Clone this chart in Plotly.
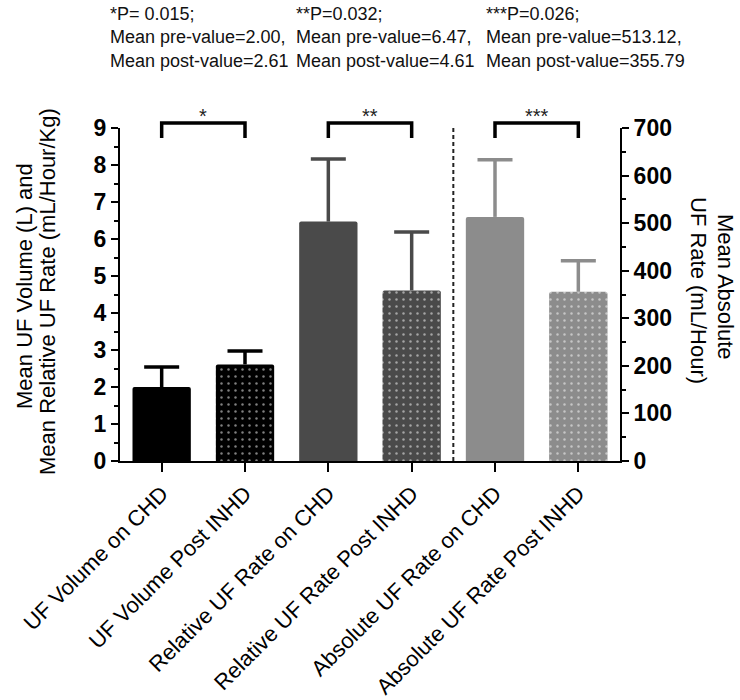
import plotly.graph_objects as go

# ---------------- data ----------------
categories = ["UF Volume on CHD", "UF Volume Post INHD",
              "Relative UF Rate on CHD", "Relative UF Rate Post INHD",
              "Absolute UF Rate on CHD", "Absolute UF Rate Post INHD"]
left_means = [2.00, 2.61, 6.47, 4.61]          # left axis (L, mL/Hour/Kg)
left_sd = [0.54, 0.36, 1.69, 1.58]
right_means = [513.12, 355.79]                 # right axis (mL/Hour)
right_sd = [120, 65]
left_colors = ["#000000", "#000000", "#4a4a4a", "#4a4a4a"]
right_colors = ["#8c8c8c", "#8c8c8c"]
left_patterns = ["", ".", "", "."]
right_patterns = ["", "."]
left_ticks = list(range(0, 10))
right_ticks = list(range(0, 701, 100))
sig_pairs = [(0, 1, "*"), (2, 3, "**"), (4, 5, "***")]
stat_texts = [
    "*P= 0.015;<br>Mean pre-value=2.00,<br>Mean post-value=2.61",
    "**P=0.032;<br>Mean pre-value=6.47,<br>Mean post-value=4.61",
    "***P=0.026;<br>Mean pre-value=513.12,<br>Mean post-value=355.79",
]

FONT = "Liberation Sans, Arial, sans-serif"
W, H = 740, 700
ML, MR, MT, MB = 120, 120, 128, 239
PW, PH = W - ML - MR, H - MT - MB


def px(x):
    return (x - ML) / PW


def py(y):
    return (H - MB - y) / PH


xs = list(range(len(categories)))

fig = go.Figure()


def add_group(xvals, means, sds, colors, patterns, yaxis):
    for x, m, s, c, p in zip(xvals, means, sds, colors, patterns):
        fig.add_trace(go.Bar(
            x=[x], y=[m], width=0.7,
            marker=dict(color=c, line=dict(width=0), cornerradius=2,
                        pattern=dict(shape=p, fillmode="overlay",
                                     fgcolor="white", size=7, solidity=0.1)),
            yaxis=yaxis, showlegend=False, offsetgroup="a", hoverinfo="skip",
        ))
        # error bar: stem down to the bar top, cap as a marker
        fig.add_trace(go.Scatter(
            x=[x], y=[m + s], mode="markers",
            marker=dict(symbol="line-ew", size=25, color=c,
                        line=dict(color=c, width=3.5)),
            error_y=dict(type="data", symmetric=False, array=[0], arrayminus=[s],
                         color=c, thickness=3.5, width=0),
            yaxis=yaxis, showlegend=False, hoverinfo="skip", cliponaxis=False,
        ))


add_group(xs[:4], left_means, left_sd, left_colors, left_patterns, "y")
add_group(xs[4:], right_means, right_sd, right_colors, right_patterns, "y2")

shapes = []
for a, b, _ in sig_pairs:
    shapes.append(dict(type="path", xref="x", yref="paper",
                       path=f"M {a},{py(138)} L {a},{py(123)} L {b},{py(123)} L {b},{py(138)}",
                       line=dict(color="black", width=3.5)))
shapes.append(dict(type="line", xref="x", yref="paper", x0=3.5, x1=3.5, y0=0, y1=1,
                   line=dict(color="#222222", width=2, dash="4px,3px")))

annotations = []
for a, b, star in sig_pairs:
    annotations.append(dict(x=(a + b) / 2, xref="x", y=py(116), yref="paper",
                            xanchor="center", yanchor="middle",
                            text=star, showarrow=False,
                            font=dict(family=FONT, size=20, color="#222222")))
for t, x0 in zip(stat_texts, [108, 294, 484]):
    annotations.append(dict(x=px(x0), xref="paper", y=py(2), yref="paper",
                            xanchor="left", yanchor="top", align="left",
                            text=t, showarrow=False,
                            font=dict(family=FONT, size=18, color="#111111")))
# axis titles as separate lines
title_lines = [
    ("Mean UF Volume (L) and", 24, 286, -90),
    ("Mean Relative UF Rate (mL/Hour/Kg)", 47, 292, -90),
    ("Mean Absolute", 726, 287, 90),
    ("UF Rate (mL/Hour)", 699, 290, 90),
]
for text, x0, y0, ang in title_lines:
    annotations.append(dict(x=px(x0), xref="paper", y=py(y0), yref="paper",
                            xanchor="center", yanchor="middle",
                            text=text, textangle=ang, showarrow=False,
                            font=dict(family=FONT, size=22, color="black")))

fig.update_layout(
    template="none",
    width=W, height=H, margin=dict(l=ML, r=MR, t=MT, b=MB, pad=0, autoexpand=False),
    paper_bgcolor="white", plot_bgcolor="white",
    barmode="overlay",
    font=dict(family=FONT, color="black"),
    xaxis=dict(range=[-0.5, 5.5], tickvals=xs, ticktext=categories, tickangle=-45,
               showline=True, linecolor="black", linewidth=2, ticks="outside",
               ticklen=9, tickwidth=2, tickcolor="black", showgrid=False, zeroline=False,
               automargin=False,
               tickfont=dict(family=FONT, size=22, color="black")),
    yaxis=dict(range=[0, 9], tickvals=left_ticks, showline=True, linecolor="black",
               linewidth=2, ticks="outside", ticklen=7, tickwidth=2, tickcolor="black",
               minor=dict(dtick=0.5, ticks="outside", ticklen=4, tickwidth=2, tickcolor="black"),
               showgrid=False, zeroline=False, automargin=False,
               tickfont=dict(family=FONT, size=23, color="black", weight="bold")),
    yaxis2=dict(range=[0, 700], tickvals=right_ticks, overlaying="y", side="right",
                anchor="x", showline=True, linecolor="black", linewidth=2,
                ticks="outside", ticklen=7, tickwidth=2, tickcolor="black",
                minor=dict(dtick=50, ticks="outside", ticklen=4, tickwidth=2, tickcolor="black"),
                showgrid=False, zeroline=False, automargin=False,
                tickfont=dict(family=FONT, size=23, color="black", weight="bold")),
    shapes=shapes, annotations=annotations,
)

fig.write_html("out.html", config={"displayModeBar": False, "staticPlot": True},
               post_script="document.body.style.margin='0';document.body.style.overflow='hidden';")
